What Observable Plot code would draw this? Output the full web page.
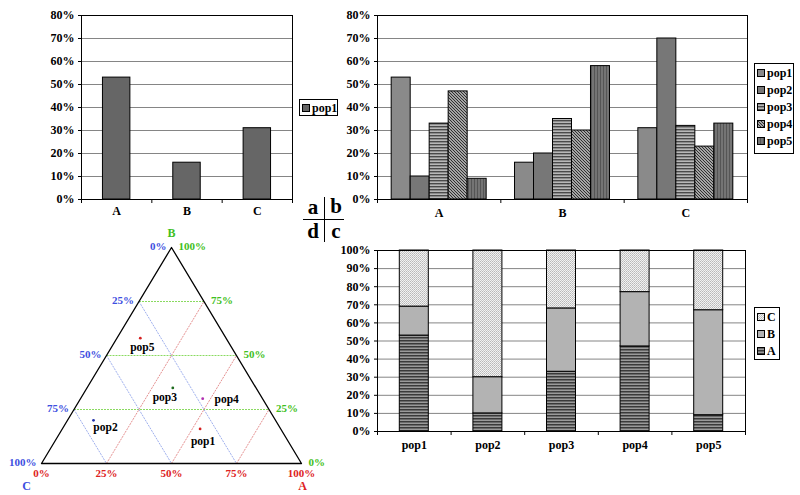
<!DOCTYPE html>
<html>
<head>
<meta charset="utf-8">
<script src="https://cdn.jsdelivr.net/npm/d3@7"></script>
<script src="https://cdn.jsdelivr.net/npm/@observablehq/plot@0.6"></script>
<style>
  html, body { margin: 0; padding: 0; background: #fff; }
  #root { position: relative; width: 800px; height: 495px; overflow: hidden; background: #fff;
          font-family: "Liberation Serif", "Times New Roman", serif; font-weight: bold; color: #000; }
  .panel { position: absolute; }
  .legend { position: absolute; border: 1px solid #000; background: #fff; font-size: 12px; line-height: 17px;
            box-sizing: border-box; padding: 0 1px 0 2px; }
  .legend .row { display: flex; align-items: center; white-space: nowrap; }
  .legend svg { margin-right: 1px; flex: none; }
  #abcd { position: absolute; left: 303px; top: 197px; width: 42px; height: 45px; font-size: 21px; }
  #abcd span { position: absolute; width: 20px; text-align: center; line-height: 22px; }
  #abcd .h { position: absolute; left: 0; top: 22px; width: 41px; height: 0; border-top: 1.5px solid #000; }
  #abcd .v { position: absolute; left: 21px; top: 0; width: 0; height: 45px; border-left: 1.5px solid #000; }
</style>
</head>
<body>
<div id="root"></div>
<script>
// ---------------- data ----------------
const components = ["A", "B", "C"];
const pops = ["pop1", "pop2", "pop3", "pop4", "pop5"];
const shareA = [0.53, 0.10, 0.33, 0.47, 0.09];
const shareB = [0.16, 0.20, 0.35, 0.30, 0.58];
const shareC = [0.31, 0.70, 0.32, 0.23, 0.33];
const yTicks80 = [0, 0.1, 0.2, 0.3, 0.4, 0.5, 0.6, 0.7, 0.8];
const yTicks100 = [0, 0.1, 0.2, 0.3, 0.4, 0.5, 0.6, 0.7, 0.8, 0.9, 1];
const gridLevels = [0.25, 0.5, 0.75];
const edgeLevels = [0, 0.25, 0.5, 0.75, 1];

// ---------------- derived tables ----------------
const shares = [shareA, shareB, shareC];
const composition = pops.map((p, i) => ({ pop: p, i, A: shareA[i], B: shareB[i], C: shareC[i] }));
const dataA = components.map((c, j) => ({ comp: c, j, value: shares[j][0] }));
const dataB = components.flatMap((c, j) => pops.map((p, k) => ({ comp: c, j, pop: p, k, value: shares[j][k] })));
const dataC = pops.flatMap((p, i) => {
  let acc = 0;
  return components.map((c, j) => {
    const y1 = acc; acc += shares[j][i];
    return { pop: p, i, comp: c, y1, y2: acc };
  });
});

// ---------------- styles ----------------
const pct = d3.format(".0%");
const serif = "Liberation Serif, Times New Roman, serif";
const svgStyle = { fontFamily: serif, fontWeight: "bold", fontSize: "12px", background: "transparent", overflow: "visible", color: "#000" };
const popFills = ["#8a8a8a", "#777777", "url(#pHoriz)", "url(#pDiag)", "url(#pVert)"];
const compFills = ["url(#pDarkHoriz)", "#b3b3b3", "url(#pDots)"];
const aFill = "#666666";
const gridColor = "#858585";
const tern = { blue: "#3d4fe0", green: "#3fbf22", red: "#dd2222",
               gBlue: "#9fb0ee", gGreen: "#8ada60", gRed: "#e59090" };
const dotColors = ["#d42020", "#2233aa", "#1f6b1f", "#b030b0", "#d42020"];
const popLabelDx = [3, 12, -8, 24, 2];
const popLabelDy = [12, 7, 9, 1, 9];

const root = document.getElementById("root");

// pattern definitions shared by all panels
const defs = document.createElementNS("http://www.w3.org/2000/svg", "svg");
defs.setAttribute("width", 0); defs.setAttribute("height", 0);
defs.style.position = "absolute";
defs.innerHTML = `<defs>
 <pattern id="pHoriz" patternUnits="userSpaceOnUse" width="3" height="3">
   <rect width="3" height="3" fill="#b8b8b8"/><rect width="3" height="1.4" fill="#4a4a4a"/></pattern>
 <pattern id="pDiag" patternUnits="userSpaceOnUse" width="3" height="3">
   <rect width="3" height="3" fill="#dcdcdc"/>
   <path d="M-1,-1L4,4M-1,2L1,4M2,-1L4,1" stroke="#2a2a2a" stroke-width="1.2"/></pattern>
 <pattern id="pVert" patternUnits="userSpaceOnUse" width="3" height="3">
   <rect width="3" height="3" fill="#747474"/><rect width="1" height="3" fill="#555"/></pattern>
 <pattern id="pDarkHoriz" patternUnits="userSpaceOnUse" width="3" height="3">
   <rect width="3" height="3" fill="#9a9a9a"/><rect width="3" height="1.5" fill="#3a3a3a"/></pattern>
 <pattern id="pDots" patternUnits="userSpaceOnUse" width="2" height="2">
   <rect width="2" height="2" fill="#f2f2f2"/><rect width="1" height="1" fill="#b8b8b8"/>
   <rect x="1" y="1" width="1" height="1" fill="#c8c8c8"/></pattern>
</defs>`;
root.appendChild(defs);

function place(el, left, top) {
  const div = document.createElement("div");
  div.className = "panel";
  div.style.left = left + "px"; div.style.top = top + "px";
  div.appendChild(el);
  root.appendChild(div);
  return div;
}

function barAxes(n, labels, yTicks, pad) {
  return [
    Plot.axisY({ ticks: yTicks, tickFormat: pct, tickSize: 3, tickPadding: 4, label: null, stroke: "#000" }),
    Plot.axisX({ ticks: d3.range(n + 1), tickFormat: () => "", tickSize: 4, label: null, stroke: "#000" }),
    Plot.axisX({ ticks: d3.range(n).map(i => i + 0.5), tickFormat: d => labels[Math.floor(d)], tickSize: 0, tickPadding: pad, label: null })
  ];
}

// ---------------- panel a ----------------
const halfA = 0.195;
const plotA = Plot.plot({
  width: 300, height: 225, marginLeft: 81, marginRight: 8, marginTop: 15, marginBottom: 26,
  style: svgStyle,
  x: { domain: [0, components.length] },
  y: { domain: [0, 0.8] },
  marks: [
    Plot.ruleY(yTicks80, { stroke: gridColor }),
    Plot.rect(dataA, { x1: d => d.j + 0.5 - halfA, x2: d => d.j + 0.5 + halfA, y1: d => 0, y2: "value", fill: aFill, stroke: "#000", strokeWidth: 1 }),
    Plot.frame({ stroke: "#000" }),
    ...barAxes(components.length, components, yTicks80, 7)
  ]
});
place(plotA, 0, 0);

// ---------------- panel b ----------------
const padB = 0.115, barB = 0.154;
const plotB = Plot.plot({
  width: 500, height: 225, marginLeft: 77, marginRight: 53, marginTop: 15, marginBottom: 26,
  style: svgStyle,
  x: { domain: [0, components.length] },
  y: { domain: [0, 0.8] },
  color: { type: "ordinal", domain: pops, range: popFills },
  marks: [
    Plot.ruleY(yTicks80, { stroke: gridColor }),
    Plot.rect(dataB, { x1: d => d.j + padB + d.k * barB, x2: d => d.j + padB + (d.k + 1) * barB, y1: d => 0, y2: "value", fill: "pop", stroke: "#000", strokeWidth: 1 }),
    Plot.frame({ stroke: "#000" }),
    ...barAxes(components.length, components, yTicks80, 9)
  ]
});
place(plotB, 300, 0);

// ---------------- panel c ----------------
const halfC = 0.197;
const plotC = Plot.plot({
  width: 500, height: 260, marginLeft: 77, marginRight: 55, marginTop: 15, marginBottom: 64,
  style: svgStyle,
  x: { domain: [0, pops.length] },
  y: { domain: [0, 1] },
  color: { type: "ordinal", domain: components, range: compFills },
  marks: [
    Plot.ruleY(yTicks100, { stroke: gridColor }),
    Plot.rect(dataC, { x1: d => d.i + 0.5 - halfC, x2: d => d.i + 0.5 + halfC, y1: "y1", y2: "y2", fill: "comp", stroke: "#000", strokeWidth: 1 }),
    Plot.frame({ stroke: "#000" }),
    ...barAxes(pops.length, pops, yTicks100, 9)
  ]
});
place(plotC, 300, 235);

// ---------------- panel d (ternary) ----------------
const tx = d => d.A + d.B / 2;
const ty = d => d.B;
const vertices = [{ A: 0, B: 0, C: 1 }, { A: 1, B: 0, C: 0 }, { A: 0, B: 1, C: 0 }, { A: 0, B: 0, C: 1 }];
const greenLines = gridLevels.map(L => [{ A: 0, B: L, C: 1 - L }, { A: 1 - L, B: L, C: 0 }]);
const blueLines = gridLevels.map(L => [{ A: 0, B: 1 - L, C: L }, { A: 1 - L, B: 0, C: L }]);
const redLines = gridLevels.map(L => [{ A: L, B: 0, C: 1 - L }, { A: L, B: 1 - L, C: 0 }]);
const gridLink = (lines, stroke) => Plot.link(lines, {
  x1: l => tx(l[0]), y1: l => ty(l[0]), x2: l => tx(l[1]), y2: l => ty(l[1]),
  stroke, strokeWidth: 1, strokeDasharray: "2,1"
});
const blueEdge = edgeLevels.map(L => ({ A: 0, B: 1 - L, C: L, label: pct(L) }));
const greenEdge = edgeLevels.map(L => ({ A: 1 - L, B: L, C: 0, label: pct(L) }));
const redEdge = edgeLevels.map(L => ({ A: L, B: 0, C: 1 - L, label: pct(L) }));
const tickText = { x: tx, y: ty, text: "label", fontSize: 11, fontWeight: "bold" };

const plotD = Plot.plot({
  width: 340, height: 275, marginLeft: 41, marginRight: 39, marginTop: 27, marginBottom: 32,
  style: svgStyle,
  x: { domain: [0, 1], axis: null },
  y: { domain: [0, 1], axis: null },
  color: { type: "ordinal", domain: pops, range: dotColors },
  marks: [
    gridLink(greenLines, tern.gGreen),
    gridLink(blueLines, tern.gBlue),
    gridLink(redLines, tern.gRed),
    Plot.line(vertices, { x: tx, y: ty, stroke: "#000", strokeWidth: 1.3 }),
    Plot.dot(composition, { x: tx, y: ty, r: 1.4, fill: "pop", stroke: null }),
    ...composition.map((d, i) => Plot.text([d], { x: tx, y: ty, text: "pop", dx: popLabelDx[i], dy: popLabelDy[i], fontSize: 11.5, fontWeight: "bold", fill: "#000" })),
    Plot.text(blueEdge, { ...tickText, textAnchor: "end", dx: -5, dy: -1, fill: tern.blue }),
    Plot.text(greenEdge, { ...tickText, textAnchor: "start", dx: 7, dy: -1, fill: tern.green }),
    Plot.text(redEdge, { ...tickText, dy: 10, fill: tern.red }),
    Plot.text([vertices[2]], { x: tx, y: ty, text: () => "B", dy: -14, fill: tern.green, fontSize: 12, fontWeight: "bold" }),
    Plot.text([vertices[0]], { x: tx, y: ty, text: () => "C", dx: -15, dy: 23, fill: tern.blue, fontSize: 12, fontWeight: "bold" }),
    Plot.text([vertices[1]], { x: tx, y: ty, text: () => "A", dx: 1, dy: 23, fill: tern.red, fontSize: 12, fontWeight: "bold" })
  ]
});
place(plotD, 0, 220);

// ---------------- legends ----------------
function legend(items, fills, left, top, width, height, padTop) {
  const div = document.createElement("div");
  div.className = "legend";
  Object.assign(div.style, { left: left + "px", top: top + "px", width: width + "px", height: height + "px", paddingTop: padTop + "px" });
  items.forEach((name, i) => {
    const row = document.createElement("div");
    row.className = "row";
    row.innerHTML = `<svg width="9" height="9"><rect x="0.5" y="0.5" width="7" height="7" fill="${fills[i]}" stroke="#000" stroke-width="1"/></svg><span>${name}</span>`;
    div.appendChild(row);
  });
  root.appendChild(div);
}
legend(["pop1"], [aFill], 299, 99, 39, 17, 0);
legend(pops, popFills, 754, 63, 40, 91, 1);
const revComp = components.slice().reverse();
legend(revComp, revComp.map(c => compFills[components.indexOf(c)]), 754, 307, 26, 53, 1);

// ---------------- panel labels a|b / d|c ----------------
const abcd = document.createElement("div");
abcd.id = "abcd";
abcd.innerHTML = `<span style="left:0;top:-1px">a</span><span style="left:23px;top:-2px">b</span>
<span style="left:0;top:23px">d</span><span style="left:23px;top:23px">c</span>
<div class="h"></div><div class="v"></div>`;
root.appendChild(abcd);
</script>
</body>
</html>
